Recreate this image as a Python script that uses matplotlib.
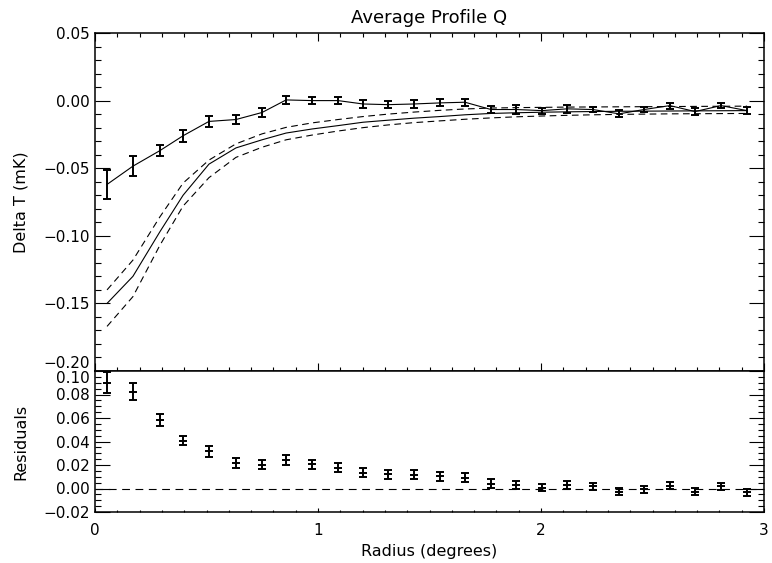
import matplotlib
matplotlib.use("Agg")
import matplotlib.pyplot as plt
from matplotlib.ticker import MultipleLocator

# radius of each bin (degrees)
radius = [0.054, 0.170, 0.291, 0.395, 0.511, 0.632, 0.749, 0.857, 0.973, 1.090,
          1.202, 1.314, 1.430, 1.547, 1.659, 1.776, 1.888, 2.004, 2.117, 2.233,
          2.350, 2.462, 2.578, 2.691, 2.807, 2.924]

# measured profile and its errors (mK)
profile = [-0.0620, -0.0485, -0.0370, -0.0260, -0.0154, -0.0140, -0.0088, 0.0005, 0.0000, 0.0000,
           -0.0025, -0.0030, -0.0025, -0.0017, -0.0012, -0.0066, -0.0066, -0.0074, -0.0061, -0.0066,
           -0.0098, -0.0066, -0.0037, -0.0081, -0.0037, -0.0074]
profile_err = [0.0105, 0.0074, 0.0043, 0.0044, 0.0042, 0.0034, 0.0035, 0.0030, 0.0028, 0.0028,
               0.0030, 0.0028, 0.0028, 0.0026, 0.0026, 0.0024, 0.0030, 0.0022, 0.0030, 0.0022,
               0.0025, 0.0022, 0.0022, 0.0025, 0.0020, 0.0025]

# model and its upper / lower envelope
model = [-0.150, -0.130, -0.097, -0.070, -0.047, -0.035, -0.029, -0.024, -0.021, -0.0185,
         -0.0160, -0.0145, -0.0130, -0.0118, -0.0105, -0.0095, -0.0090, -0.0086, -0.0083, -0.0081,
         -0.0079, -0.0078, -0.0077, -0.0076, -0.0075, -0.0074]
model_hi = [-0.140, -0.118, -0.086, -0.061, -0.044, -0.032, -0.0246, -0.0198, -0.0165, -0.0140,
            -0.0118, -0.0100, -0.0085, -0.0072, -0.0062, -0.0055, -0.0052, -0.0050, -0.0048, -0.0047,
            -0.0046, -0.0045, -0.0044, -0.0043, -0.0042, -0.0041]
model_lo = [-0.167, -0.145, -0.107, -0.078, -0.057, -0.042, -0.0345, -0.0290, -0.0255, -0.0225,
            -0.0200, -0.0180, -0.0163, -0.0150, -0.0138, -0.0128, -0.0120, -0.0114, -0.0109, -0.0105,
            -0.0102, -0.0100, -0.0098, -0.0097, -0.0096, -0.0095]

# residuals (data - model)
resid = [0.0900, 0.0822, 0.0583, 0.0408, 0.0315, 0.0217, 0.0203, 0.0245, 0.0205, 0.0177,
         0.0135, 0.0121, 0.0118, 0.0104, 0.0093, 0.0042, 0.0028, 0.0008, 0.0028, 0.0019,
         -0.0029, -0.0006, 0.0022, -0.0029, 0.0019, -0.0034]
resid_err = [0.0090, 0.0073, 0.0049, 0.0042, 0.0046, 0.0042, 0.0038, 0.0042, 0.0041, 0.0038,
             0.0036, 0.0036, 0.0036, 0.0036, 0.0036, 0.0040, 0.0035, 0.0032, 0.0032, 0.0032,
             0.0030, 0.0030, 0.0030, 0.0030, 0.0028, 0.0030]

x_ticks = [0, 1, 2, 3]
x_ticklabels = ['0', '1', '2', '3']
top_yticks = [-0.20, -0.15, -0.10, -0.05, 0.00, 0.05]
top_yticklabels = ['\u22120.20', '\u22120.15', '\u22120.10', '\u22120.05', '0.00', '0.05']
bot_yticks = [-0.02, 0.00, 0.02, 0.04, 0.06, 0.08, 0.10]
bot_yticklabels = ['\u22120.02', '0.00', '0.02', '0.04', '0.06', '0.08', '0.10']

plt.rcParams['font.family'] = 'DejaVu Sans'
W, H = 772, 563
fig = plt.figure(figsize=(W / 100, H / 100), dpi=100)
ax1 = fig.add_axes([95 / W, (H - 371) / H, 669 / W, 338 / H])
ax2 = fig.add_axes([95 / W, (H - 512) / H, 669 / W, 141 / H])

# --- top panel
ax1.errorbar(radius, profile, yerr=profile_err, color='black', lw=0.8,
             elinewidth=1.4, capsize=3, capthick=1.4)
ax1.plot(radius, model, color='black', lw=0.8)
ax1.plot(radius, model_hi, color='black', lw=0.8, dashes=(6, 4))
ax1.plot(radius, model_lo, color='black', lw=0.8, dashes=(6, 4))
ax1.set_xlim(0, 3)
ax1.set_ylim(-0.20, 0.05)
ax1.set_xticks(x_ticks)
ax1.set_xticklabels([])
ax1.set_yticks(top_yticks)
ax1.set_yticklabels(top_yticklabels)
ax1.xaxis.set_minor_locator(MultipleLocator(0.1))
ax1.yaxis.set_minor_locator(MultipleLocator(0.01))
ax1.tick_params(which='both', direction='in', top=True, right=True, width=0.8,
                labelsize=11, colors='black')
ax1.tick_params(axis='x', which='major', length=6)
ax1.tick_params(axis='x', which='minor', length=3.2)
ax1.tick_params(axis='y', which='major', length=11, pad=4)
ax1.tick_params(axis='y', which='minor', length=4.3)
ax1.set_title('Average Profile Q', fontsize=13, pad=7)
ax1.set_ylabel('Delta T (mK)', fontsize=11.5)
ax1.yaxis.set_label_coords(-0.099, 0.5)
# the two labels meet at the panel boundary: lift the lower one of the top panel
ax1.get_yticklabels()[0].set_va('bottom')

# --- residual panel
ax2.errorbar(radius, resid, yerr=resid_err, fmt='_', color='black', ms=6, mew=1.4,
             elinewidth=1.4, capsize=3, capthick=1.4)
ax2.axhline(0, color='black', lw=0.8, dashes=(7, 5))
ax2.set_xlim(0, 3)
ax2.set_ylim(-0.02, 0.10)
ax2.set_xticks(x_ticks)
ax2.set_xticklabels(x_ticklabels)
ax2.set_yticks(bot_yticks)
ax2.set_yticklabels(bot_yticklabels)
ax2.xaxis.set_minor_locator(MultipleLocator(0.1))
ax2.yaxis.set_minor_locator(MultipleLocator(0.005))
ax2.tick_params(which='both', direction='in', top=False, right=True, width=0.8,
                labelsize=11, colors='black')
ax2.tick_params(axis='x', which='major', length=3, pad=8)
ax2.tick_params(axis='x', which='minor', length=1.8)
ax2.tick_params(axis='y', which='major', length=11, pad=4)
ax2.tick_params(axis='y', which='minor', length=4.3)
ax2.set_xlabel('Radius (degrees)', fontsize=11.5, labelpad=4)
ax2.set_ylabel('Residuals', fontsize=11.5)
ax2.yaxis.set_label_coords(-0.099, 0.5)
ax2.get_yticklabels()[-1].set_va('top')

for ax in (ax1, ax2):
    for s in ax.spines.values():
        s.set_linewidth(1.1)

fig.savefig('out.png', dpi=100)
